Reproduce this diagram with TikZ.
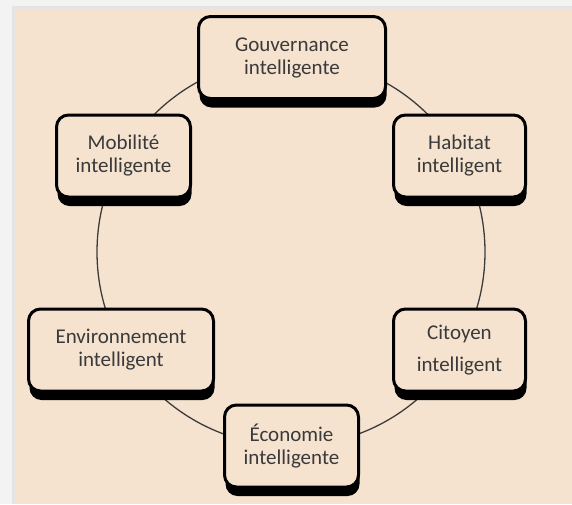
\documentclass[tikz,border=0pt]{standalone}
\usepackage{fontspec}
\setmainfont{Carlito}
\usetikzlibrary{shadows}

\definecolor{pagegray}{HTML}{F3F3F3}
\definecolor{edgegray}{HTML}{E4E4E4}
\definecolor{panel}{HTML}{F5E3D0}
\definecolor{inkgray}{HTML}{3A3A3A}
\definecolor{ringgray}{HTML}{3C3C3C}

\tikzset{
  themebox/.style={
    draw=black, line width=3pt, fill=panel,
    rounded corners=12pt,
    minimum height=82pt, inner sep=2pt,
    align=center, text=inkgray,
    font=\fontsize{21}{23}\selectfont,
    drop shadow={shadow xshift=1pt, shadow yshift=-9pt, fill=black, opacity=1}
  },
  ring/.style={draw=ringgray, line width=1.3pt}
}

\begin{document}
\begin{tikzpicture}[x=1pt, y=-1pt]
  \useasboundingbox (0,0) rectangle (572,504);

  % page and panel background
  \fill[pagegray] (0,0) rectangle (572,504);
  \fill[edgegray] (12,6) rectangle (572,504);
  \fill[panel] (15,9) rectangle (572,504);

  % ring joining the six themes
  \coordinate (centre) at (291,252);
  \draw[ring] (centre) circle[radius=194pt];

  % the six themes
  \node[themebox, minimum width=187pt] (gouv) at (292,57.5) {Gouvernance\\intelligente};
  \node[themebox, minimum width=132pt] (habitat) at (459.5,156) {Habitat\\intelligent};
  \node[themebox, minimum width=132pt] (citoyen) at (459.5,350) {Citoyen\\[9pt]intelligent};
  \node[themebox, minimum width=134pt] (econ) at (291.5,446) {Économie\\intelligente};
  \node[themebox, minimum width=185pt] (env) at (121,350) {Environnement\\intelligent};
  \node[themebox, minimum width=134pt] (mob) at (123.5,156) {Mobilité\\intelligente};
\end{tikzpicture}
\end{document}
